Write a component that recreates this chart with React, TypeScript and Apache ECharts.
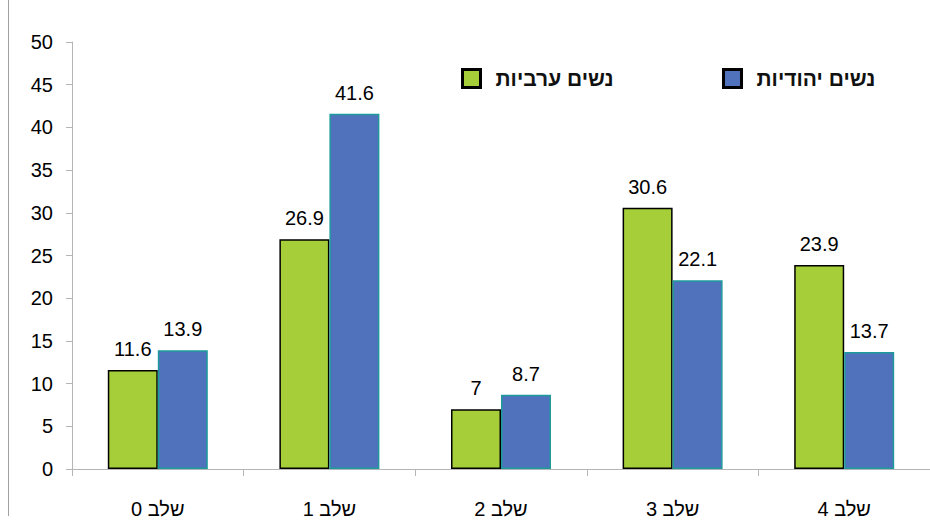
import React, { useEffect, useRef } from "react";
import * as echarts from "echarts";

const categories = ["שלב 0", "שלב 1", "שלב 2", "שלב 3", "שלב 4"];
const arabWomen = [11.6, 26.9, 7, 30.6, 23.9];
const jewishWomen = [13.9, 41.6, 8.7, 22.1, 13.7];
const seriesNames = ["נשים ערביות", "נשים יהודיות"];

export default function App() {
  const ref = useRef<HTMLDivElement>(null);
  useEffect(() => {
    if (!ref.current) return;
    const chart = echarts.init(ref.current, null, { renderer: "svg" });
    const font = "'Liberation Sans', Arial, sans-serif";
    const legendBase = {
      orient: "horizontal",
      top: 63,
      itemWidth: 18,
      itemHeight: 18,
      icon: "rect",
      itemStyle: { borderColor: "#000", borderWidth: 3 },
      textStyle: {
        fontFamily: font,
        fontSize: 21,
        fontWeight: "bold",
        color: "#111",
        padding: [0, 0, 0, 10],
      },
      selectedMode: false,
    };
    const labelStyle = {
      show: true,
      position: "top",
      distance: 11,
      fontFamily: font,
      fontSize: 20,
      color: "#000",
    };
    chart.setOption({
      animation: false,
      backgroundColor: "#fff",
      grid: { left: 72, right: -2, top: 42, bottom: 52, containLabel: false },
      legend: [
        { ...legendBase, left: 456, data: [seriesNames[0]] },
        { ...legendBase, left: 717, data: [seriesNames[1]] },
      ],
      graphic: [
        {
          type: "line",
          shape: { x1: 8.5, y1: 0, x2: 8.5, y2: 516 },
          style: { stroke: "#a0a0a0", lineWidth: 1 },
        },
      ],
      xAxis: {
        type: "category",
        data: categories,
        axisLine: { lineStyle: { color: "#b5b5b5", width: 1 } },
        axisTick: { show: true, length: 7, alignWithLabel: false, lineStyle: { color: "#b5b5b5" } },
        axisLabel: { fontFamily: font, fontSize: 20, color: "#000", margin: 30 },
      },
      yAxis: {
        type: "value",
        min: 0,
        max: 50,
        interval: 5,
        splitLine: { show: false },
        axisLine: { show: true, lineStyle: { color: "#b5b5b5", width: 1 } },
        axisTick: { show: true, length: 6, lineStyle: { color: "#b5b5b5" } },
        axisLabel: { fontFamily: font, fontSize: 20, color: "#000", margin: 19 },
      },
      series: [
        {
          name: seriesNames[0],
          type: "bar",
          data: arabWomen,
          barWidth: 50,
          barGap: "0%",
          itemStyle: { color: "#a6ce39", borderColor: "#000", borderWidth: 1.5 },
          label: labelStyle,
        },
        {
          name: seriesNames[1],
          type: "bar",
          data: jewishWomen,
          barWidth: 50,
          barGap: "0%",
          itemStyle: { color: "#5072bd", borderColor: "#1e9a9c", borderWidth: 1.5 },
          label: labelStyle,
        },
      ],
    });
    return () => chart.dispose();
  }, []);
  return (
    <div
      ref={ref}
      style={{ position: "absolute", left: 0, top: 0, width: 930, height: 521 }}
    />
  );
}
